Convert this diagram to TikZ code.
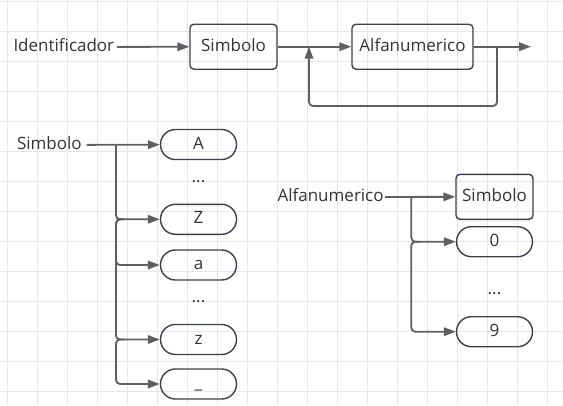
\documentclass[tikz,border=0pt]{standalone}
\usepackage{fontspec}
\setmainfont{Open Sans}
\usetikzlibrary{arrows.meta, positioning}
\definecolor{edge}{HTML}{5F5F5F}
\definecolor{frame}{HTML}{3A3F4A}
\definecolor{ink}{HTML}{333333}
\definecolor{gridline}{HTML}{E6E6E6}

\begin{document}
\begin{tikzpicture}[
    x=1pt, y=-1pt,
    every node/.style={font=\fontsize{17}{20}\selectfont, text=ink,
                       text height=12.5pt, text depth=3.5pt},
    tag/.style={inner sep=1.5pt, outer sep=0pt, anchor=west},
    box/.style={rectangle, draw=frame, rounded corners=4pt, line width=1.4pt,
                inner sep=0pt, minimum height=45pt},
    pill/.style={rectangle, draw=frame, rounded corners=14.9pt, line width=1.4pt,
                 inner sep=0pt, minimum width=76pt, minimum height=30pt},
    arrow/.style={-{Triangle[length=12pt, width=8.5pt]}, line width=1.8pt,
                  color=edge, rounded corners=4pt}
]
\useasboundingbox (0,0) rectangle (563,405);

% Grid
\foreach \x in {7.7,37.7,...,547.7}
    \draw[gridline, line width=0.8pt] (\x,0) -- (\x,405);
\foreach \y in {1,31,...,391}
    \draw[gridline, line width=0.8pt] (0,\y) -- (563,\y);

% Identificador
\node[tag, inner xsep=3pt] (ident) at (10.5,47) {Identificador};
\node[box, minimum width=87pt] (sim) at (233.5,46.7) {Simbolo};
\node[box, minimum width=121pt] (alfa) at (412.5,46.7) {Alfanumerico};
\coordinate (out) at (531,46.7);
\coordinate (split) at (497,46.7);
\coordinate (loopR) at (497,106);
\coordinate (loopL) at (309,106);
\coordinate (merge) at (309,46.7);

\draw[arrow] (ident) -- (sim);
\draw[arrow] (sim) -- (alfa);
\draw[arrow] (alfa) -- (out);
\draw[arrow] (split) -- (loopR) -- (loopL) -- (merge);

% Simbolo
\node[tag, inner xsep=5pt] (simL) at (12,145) {Simbolo};
\node[pill] (A) at (198.5,144.5) {A};
\node (dotsU) at (198.5,178) {...};
\node[pill] (Z) at (198.5,219.3) {Z};
\node[pill] (a) at (198.5,265) {a};
\node (dotsL) at (198.5,298) {...};
\node[pill] (z) at (198.5,339.5) {z};
\node[pill] (und) at (198.5,384) {\_};

\coordinate (jS) at (116,145);
\coordinate (jZ) at (124,219.3);
\coordinate (kZ) at (116,219.3);
\coordinate (jz) at (124,339.5);
\coordinate (kz) at (116,339.5);

\draw[arrow] (simL) -- (A);
\draw[arrow] (jS) |- (Z);
\draw[arrow] (jZ) -- (kZ) |- (a);
\draw[arrow] (jZ) -- (kZ) |- (z);
\draw[arrow] (jz) -- (kz) |- (und);

% Alfanumerico
\node[tag] (alfaL) at (276,197) {Alfanumerico};
\node[box, minimum width=77pt] (simR) at (494.5,196.8) {Simbolo};
\node[pill] (zero) at (494.5,241.7) {0};
\node (dotsR) at (494.5,290) {...};
\node[pill] (nine) at (494.5,331.7) {9};

\coordinate (jR) at (411.3,197);
\coordinate (j0) at (419.3,241.7);
\coordinate (k0) at (411.3,241.7);

\draw[arrow] (alfaL) -- (simR);
\draw[arrow] (jR) |- (zero);
\draw[arrow] (j0) -- (k0) |- (nine);

\end{tikzpicture}
\end{document}
